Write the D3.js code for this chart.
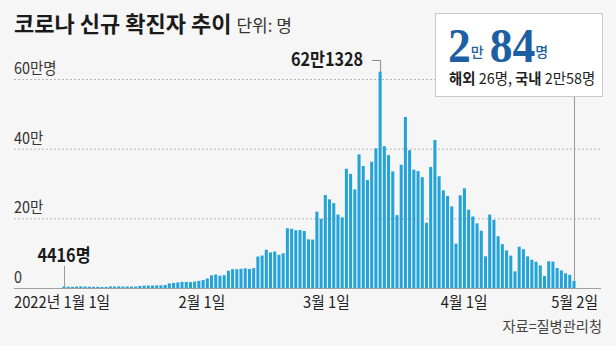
<!DOCTYPE html>
<html>
<head>
<meta charset="utf-8">
<script src="https://cdn.jsdelivr.net/npm/d3@7"></script>
<style>
  html, body { margin: 0; padding: 0; background: #f6f6f6; }
  svg { display: block; }
</style>
</head>
<body>
<svg id="chart" width="616" height="346"></svg>
<script>
// Daily new COVID-19 cases, 2022-01-01 .. 2022-05-02 (one value per day)
const startDay = "2022-01-01";
const dailyCases = [
  // January
  4416, 3833, 3129, 4207, 4444, 4126, 3713, 3376, 3370, 3005, 3094, 4388, 4167, 4542, 4197, 4194,
  3857, 4071, 5805, 6603, 6769, 7009, 7630, 7513, 8571, 13012, 14518, 16096, 17542, 17528, 17079,
  // February
  18342, 20270, 22907, 27443, 36362, 38691, 35286, 36717, 49567, 54121, 53926, 54941, 56431, 54619,
  57177, 90443, 93135, 109831, 102211, 104829, 95362, 99573, 171452, 170016, 165890, 166209, 163566, 139626,
  // March
  138993, 219241, 198803, 266853, 254327, 243628, 210716, 202721, 342446, 327549, 282987, 383665,
  350190, 309790, 362338, 400741, 621328, 407017, 381454, 334708, 209169, 353980, 490881, 395598,
  339514, 335580, 318130, 187213, 347554, 424641, 320743,
  // April
  280273, 264171, 234301, 127190, 266135, 286294, 224820, 205333, 185566, 164481, 90928, 210755,
  195419, 148443, 125846, 107916, 93001, 47743, 118504, 111319, 90867, 81058, 75449, 64725, 34370,
  76787, 75800, 57464, 50568, 42296,
  // May
  37771, 20084
];

const yTickValues = [0, 200000, 400000, 600000];
const yTickLabels = ["0", "20만", "40만", "60만명"];

const xTickDates = ["2022-01-01", "2022-02-01", "2022-03-01", "2022-04-01", "2022-05-02"];
const xTickLabels = ["2022년 1월 1일", "2월 1일", "3월 1일", "4월 1일", "5월 2일"];

const titleText = "코로나 신규 확진자 추이";
const unitText = "단위: 명";
const sourceText = "자료=질병관리청";
const firstLabel = "4416명";
const peakLabel = "62만1328";

// Latest-day callout: total, then overseas / domestic breakdown
const latestTotalParts = [["2", "num"], ["만", "unit"], ["84", "num"], ["명", "unit"]];
const latestDetailParts = [["해외", 700], [" 26명, ", 400], ["국내", 700], [" 2만58명", 400]];

const KR = "'Noto Sans CJK KR', 'Noto Sans', sans-serif";
const SERIF = "'Liberation Serif', 'DejaVu Serif', serif";
const BAR = "#23a3d8";
const BLUE = "#1d5fa3";

const svg = d3.select("#chart");
const W = 616, H = 346;
const padL = 14, padR = 601;
const plotBase = 288, plotTop = 79;

svg.append("rect").attr("width", W).attr("height", H).attr("fill", "#f6f6f6");

// text with an optional horizontal squeeze (condensed look)
function addText(parent, x, y, str, o) {
  const g = parent.append("g")
    .attr("transform", `translate(${x},${y}) scale(${o.sx ?? 1},1)`);
  return g.append("text")
    .attr("text-anchor", o.anchor || "start")
    .attr("font-family", o.family || KR)
    .attr("font-size", o.size)
    .attr("font-weight", o.weight || 400)
    .attr("fill", o.fill || "#222")
    .text(str);
}

const parseDay = d3.timeParse("%Y-%m-%d");
const day0 = parseDay(startDay);
const days = d3.timeDay.range(day0, d3.timeDay.offset(day0, dailyCases.length));
const rows = days.map((d, i) => ({ day: d, value: dailyCases[i] }));

const step = (574 - 64) / (rows.length - 1);
const x = d3.scaleBand()
  .domain(days)
  .range([64 - step / 2, 574 + step / 2])
  .paddingInner(0.28)
  .paddingOuter(0.14);
const cx = d => x(d) + x.bandwidth() / 2;

const y = d3.scaleLinear().domain([0, 600000]).range([plotBase, plotTop]);

// title
const title = addText(svg, padL, 32, titleText, { size: 22, weight: 700, fill: "#1a1a1a" });
const tw = title.node().getComputedTextLength();
addText(svg, padL + tw + 5, 32, unitText, { size: 17, fill: "#333" });

// grid lines
svg.append("g").selectAll("line")
  .data(yTickValues.filter(v => v > 0))
  .join("line")
  .attr("x1", padL).attr("x2", padR)
  .attr("y1", d => y(d) + 0.5).attr("y2", d => y(d) + 0.5)
  .attr("stroke", "#b5b5b5").attr("stroke-width", 1)
  .attr("stroke-dasharray", "2,2");

// y tick labels
yTickValues.forEach((v, i) => {
  addText(svg, padL, y(v) - 5, yTickLabels[i], { size: 16, sx: 0.9, fill: "#333" });
});

// bars
svg.append("g").selectAll("rect")
  .data(rows)
  .join("rect")
  .attr("x", d => x(d.day))
  .attr("width", x.bandwidth())
  .attr("y", d => y(d.value))
  .attr("height", d => plotBase - y(d.value))
  .attr("fill", BAR);

// baseline
svg.append("line")
  .attr("x1", padL).attr("x2", padR)
  .attr("y1", plotBase + 0.5).attr("y2", plotBase + 0.5)
  .attr("stroke", "#a0a0a0");

// x tick labels
const xl = d3.scaleTime()
  .domain([parseDay(xTickDates[0]), parseDay(xTickDates[xTickDates.length - 1])])
  .range([64, 602]);
xTickDates.forEach((ds, i) => {
  const last = i === xTickDates.length - 1;
  const first = i === 0;
  const px = first ? padL : last ? xl(parseDay(ds)) - 4 : xl(parseDay(ds));
  addText(svg, px, 308, xTickLabels[i], {
    size: 16, sx: 0.92, fill: "#222",
    anchor: first ? "start" : last ? "end" : "middle"
  });
});

// source
addText(svg, 602, 332, sourceText, { size: 15, sx: 0.95, fill: "#444", anchor: "end" });

// first-day annotation
const firstRow = rows[0];
svg.append("line")
  .attr("x1", cx(firstRow.day) + 0.5).attr("x2", cx(firstRow.day) + 0.5)
  .attr("y1", 266).attr("y2", y(firstRow.value))
  .attr("stroke", "#999");
addText(svg, cx(firstRow.day), 262, firstLabel, { size: 18, sx: 0.9, weight: 700, anchor: "middle", fill: "#1a1a1a" });

// peak annotation
const peakRow = rows.reduce((a, b) => (b.value > a.value ? b : a));
const px0 = cx(peakRow.day);
svg.append("path")
  .attr("d", `M${px0 - 8},60.5H${px0 + 0.5}V${y(peakRow.value)}`)
  .attr("fill", "none").attr("stroke", "#888");
addText(svg, px0 - 17, 66, peakLabel, { size: 18, sx: 0.9, weight: 700, anchor: "end", fill: "#1a1a1a" });

// latest-day callout
const lastRow = rows[rows.length - 1];
const box = { x: 435, y: 13.5, w: 167, h: 83 };
svg.append("line")
  .attr("x1", cx(lastRow.day) + 0.5).attr("x2", cx(lastRow.day) + 0.5)
  .attr("y1", box.y + box.h).attr("y2", y(lastRow.value))
  .attr("stroke", "#999");
svg.append("rect")
  .attr("x", box.x + 0.5).attr("y", box.y)
  .attr("width", box.w).attr("height", box.h)
  .attr("fill", "#fff").attr("stroke", "#c8c8c8");

let tx = 448;
latestTotalParts.forEach(([s, kind]) => {
  const isNum = kind === "num";
  const sx = isNum ? 0.95 : 1;
  const t = addText(svg, tx, isNum ? 61.5 : 57, s, isNum
    ? { size: 48, sx, weight: 700, family: SERIF, fill: BLUE }
    : { size: 14, sx, weight: 500, fill: BLUE });
  tx += t.node().getComputedTextLength() * sx + (isNum ? 0 : 6);
});

const detail = addText(svg, 449, 84, "", { size: 15, sx: 0.96, fill: "#222" });
latestDetailParts.forEach(([s, w]) => {
  detail.append("tspan").attr("font-weight", w).text(s);
});
</script>
</body>
</html>
